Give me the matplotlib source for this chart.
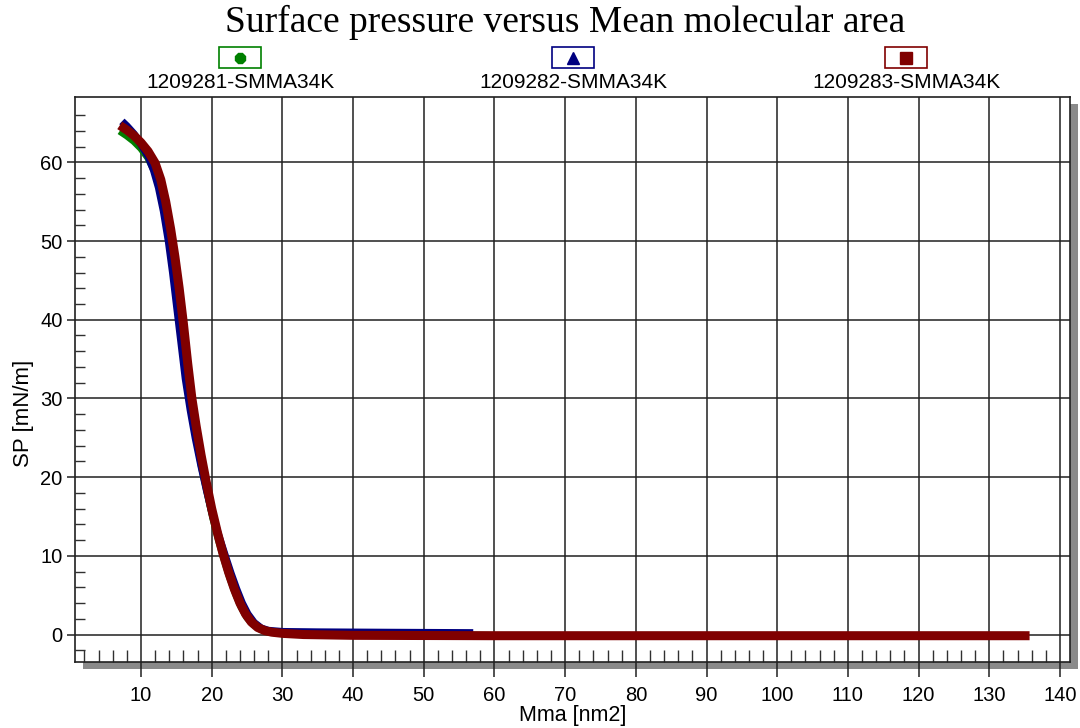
import matplotlib
matplotlib.use('Agg')
import matplotlib.pyplot as plt
from matplotlib.patches import Rectangle
from matplotlib.lines import Line2D

# --- data (Mma [nm2], SP [mN/m]) ---
names = ['1209281-SMMA34K', '1209282-SMMA34K', '1209283-SMMA34K']
colors = ['#008000', '#000080', '#800000']
markers = ['8', '^', 's']

x_green = [7.0, 8.0, 9.0, 10.0, 11.0, 12.0, 12.8, 13.5, 14.2, 14.8, 15.4, 16.0, 16.6,
           17.2, 17.9, 18.6, 19.4, 20.2, 21.0, 21.8, 22.6, 23.4, 24.2, 25.0, 25.9,
           26.9, 28.0, 30.0, 35.0, 60.0, 135.0]
y_green = [64.0, 63.4, 62.7, 61.8, 60.6, 58.8, 56.5, 53.5, 49.8, 46.0, 41.8, 37.0, 32.5,
           28.5, 24.8, 21.3, 18.0, 14.8, 12.0, 9.5, 7.2, 5.2, 3.5, 2.2, 1.3,
           0.7, 0.35, 0.15, 0.0, -0.15, -0.15]

x_blue = [7.3, 8.0, 9.0, 10.0, 11.0, 11.8, 12.5, 13.2, 13.9, 14.5, 15.1, 15.7, 16.3,
          17.0, 17.7, 18.5, 19.3, 20.2, 21.0, 21.9, 22.7, 23.5, 24.3, 25.1, 26.0,
          27.0, 28.0, 30.0, 35.0, 45.0, 57.0]
y_blue = [65.2, 64.6, 63.6, 62.3, 60.8, 59.0, 56.8, 53.8, 50.0, 46.0, 41.5, 37.0, 32.5,
          28.5, 25.0, 21.5, 18.3, 15.0, 12.5, 10.0, 7.8, 5.8, 4.0, 2.6, 1.5,
          0.8, 0.5, 0.35, 0.3, 0.25, 0.2]

x_red = [7.0, 8.0, 9.0, 10.0, 11.0, 12.0, 12.8, 13.5, 14.2, 14.8, 15.4, 16.0, 16.6,
         17.2, 17.8, 18.5, 19.2, 20.0, 20.8, 21.6, 22.4, 23.2, 24.0, 24.8, 25.6,
         26.5, 27.5, 28.5, 30.0, 33.0, 40.0, 60.0, 135.7]
y_red = [64.7, 64.1, 63.4, 62.5, 61.4, 59.9, 57.8, 55.0, 51.5, 48.0, 44.0, 39.5, 34.5,
         30.0, 26.5, 22.8, 19.5, 16.0, 13.0, 10.3, 7.9, 5.8, 4.0, 2.6, 1.6,
         0.9, 0.5, 0.3, 0.15, 0.0, -0.1, -0.15, -0.15]

xs = [x_green, x_blue, x_red]
ys = [y_green, y_blue, y_red]
widths = [5.5, 5.5, 6.5]

W, H = 1080, 728
fig = plt.figure(figsize=(W / 100, H / 100), dpi=100)


def fx(px):
    return px / W


def fy(py):
    return 1 - py / H


# axes box in pixel terms: left 75, right 1070, top 97, bottom 662
ax = fig.add_axes([fx(75), fy(662), fx(1070) - fx(75), fy(97) - fy(662)])
ax.set_zorder(2)

# gray drop shadow behind the plot box
shadow = Rectangle((fx(83), fy(669)), fx(1070) - fx(75), fy(97) - fy(662),
                   transform=fig.transFigure, facecolor='#8a8a8a', edgecolor='none', zorder=0)
fig.add_artist(shadow)

for x, y, c, lw in zip(xs, ys, colors, widths):
    ax.plot(x, y, color=c, lw=lw, solid_capstyle='butt', solid_joinstyle='round', zorder=3)

ax.set_xlim(0.665, 141.42)
ax.set_ylim(-3.49, 68.3)
ax.set_xticks(range(10, 141, 10))
ax.set_yticks(range(0, 61, 10))
ax.set_xticks([v for v in range(2, 141, 2) if v % 10], minor=True)
ax.set_yticks([v for v in range(-2, 68, 2) if v % 10], minor=True)
ax.grid(True, which='major', color='#202020', lw=1.1)
ax.set_axisbelow(True)

ax.tick_params(axis='x', which='major', direction='out', length=11, width=1.1,
               color='#202020', labelsize=14.5, pad=6)
ax.tick_params(axis='x', which='minor', direction='in', length=8.5, width=1, color='#303030')
ax.tick_params(axis='y', which='major', direction='out', length=6, width=1.1,
               color='#202020', labelsize=14.5, pad=3)
ax.tick_params(axis='y', which='minor', direction='in', length=7, width=1, color='#303030')
for s in ax.spines.values():
    s.set_color('#202020')
    s.set_linewidth(1.2)

for lab in ax.get_xticklabels() + ax.get_yticklabels():
    lab.set_family(['Liberation Sans', 'DejaVu Sans'])

fig.text(fx(565), fy(32), 'Surface pressure versus Mean molecular area',
         family=['Liberation Serif', 'DejaVu Serif'], fontsize=27, ha='center', va='baseline')
fig.text(fx(573), fy(716), 'Mma [nm2]', family=['Liberation Sans', 'DejaVu Sans'],
         fontsize=15.5, ha='center', va='center')
fig.text(fx(23), fy(413), 'SP [mN/m]', family=['Liberation Sans', 'DejaVu Sans'],
         fontsize=16, ha='center', va='center', rotation=90)

# legend: boxed marker above each name
leg_cx = [240, 573, 906]
for cx, name, c, m in zip(leg_cx, names, colors, markers):
    fig.add_artist(Rectangle((fx(cx - 21), fy(68)), fx(42), fy(47) - fy(68),
                             transform=fig.transFigure, facecolor='white',
                             edgecolor=c, lw=1.2))
    fig.add_artist(Line2D([fx(cx)], [fy(57.5)], transform=fig.transFigure,
                          marker=m, color=c, markersize=8, ls='none'))
    fig.text(fx(cx), fy(82), name, family=['Liberation Sans', 'DejaVu Sans'],
             fontsize=15, ha='center', va='center')

fig.savefig('out.png', dpi=100)
